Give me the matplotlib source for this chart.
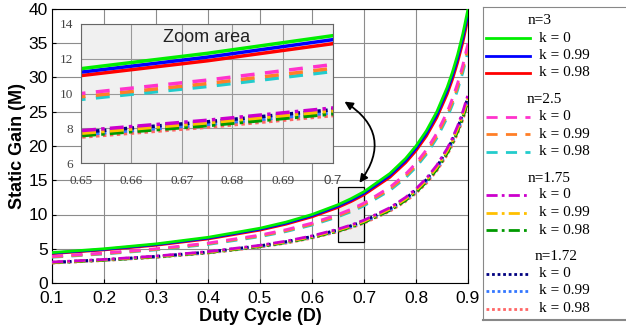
import matplotlib
matplotlib.use("Agg")
import matplotlib.pyplot as plt
from matplotlib.patches import Rectangle, FancyArrowPatch

plt.rcParams['font.family'] = ['Liberation Sans', 'DejaVu Sans']

# duty cycle points
duty = [0.1, 0.2, 0.3, 0.4, 0.5, 0.55, 0.6, 0.65, 0.675, 0.7, 0.75, 0.78,
        0.8, 0.82, 0.84, 0.86, 0.87, 0.88, 0.89, 0.9]

# n = 3
m_n3_k0 = [4.44, 5.00, 5.71, 6.67, 8.00, 8.89, 10.00, 11.43, 12.31, 13.33, 16.00, 18.18,
           20.00, 22.22, 25.00, 28.57, 30.77, 33.33, 36.36, 40.00]
m_n3_k099 = [4.37, 4.91, 5.61, 6.55, 7.86, 8.73, 9.83, 11.23, 12.09, 13.10, 15.72, 17.86,
             19.65, 21.83, 24.56, 28.07, 30.23, 32.75, 35.73, 39.30]
m_n3_k098 = [4.29, 4.83, 5.51, 6.43, 7.72, 8.58, 9.65, 11.03, 11.88, 12.87, 15.44, 17.55,
             19.30, 21.44, 24.13, 27.57, 29.69, 32.17, 35.09, 38.60]
# n = 2.5
m_n25_k0 = [3.89, 4.38, 5.00, 5.83, 7.00, 7.78, 8.75, 10.00, 10.77, 11.67, 14.00, 15.91,
            17.50, 19.44, 21.88, 25.00, 26.92, 29.17, 31.82, 35.00]
m_n25_k099 = [3.82, 4.29, 4.91, 5.73, 6.87, 7.63, 8.59, 9.81, 10.57, 11.45, 13.74, 15.61,
              17.18, 19.08, 21.47, 24.54, 26.42, 28.63, 31.23, 34.35]
m_n25_k098 = [3.76, 4.23, 4.83, 5.63, 6.76, 7.51, 8.45, 9.66, 10.40, 11.27, 13.52, 15.36,
              16.90, 18.78, 21.13, 24.14, 26.00, 28.17, 30.73, 33.80]
# n = 1.75
m_n175_k0 = [3.06, 3.44, 3.93, 4.58, 5.50, 6.11, 6.88, 7.86, 8.46, 9.17, 11.00, 12.50,
             13.75, 15.28, 17.19, 19.64, 21.15, 22.92, 25.00, 27.50]
m_n175_k099 = [3.00, 3.38, 3.86, 4.50, 5.40, 6.00, 6.75, 7.71, 8.31, 9.00, 10.80, 12.27,
               13.50, 15.00, 16.88, 19.29, 20.77, 22.50, 24.55, 27.00]
m_n175_k098 = [2.94, 3.31, 3.79, 4.42, 5.30, 5.89, 6.63, 7.57, 8.15, 8.83, 10.60, 12.05,
               13.25, 14.72, 16.56, 18.93, 20.38, 22.08, 24.09, 26.50]
# n = 1.72
m_n172_k0 = [3.02, 3.40, 3.89, 4.53, 5.44, 6.04, 6.80, 7.77, 8.37, 9.07, 10.88, 12.36,
             13.60, 15.11, 17.00, 19.43, 20.92, 22.67, 24.73, 27.20]
m_n172_k099 = [2.97, 3.34, 3.81, 4.45, 5.34, 5.93, 6.68, 7.63, 8.22, 8.90, 10.68, 12.14,
               13.35, 14.83, 16.69, 19.07, 20.54, 22.25, 24.27, 26.70]
m_n172_k098 = [2.91, 3.28, 3.74, 4.37, 5.24, 5.82, 6.55, 7.49, 8.06, 8.73, 10.48, 11.91,
               13.10, 14.56, 16.38, 18.71, 20.15, 21.83, 23.82, 26.20]

group_titles = ['n=3', 'n=2.5', 'n=1.75', 'n=1.72']
k_labels = ['k = 0', 'k = 0.99', 'k = 0.98']
x_ticks = [0.1, 0.2, 0.3, 0.4, 0.5, 0.6, 0.7, 0.8, 0.9]
y_ticks = [0, 5, 10, 15, 20, 25, 30, 35, 40]
zoom_x_ticks = [0.65, 0.66, 0.67, 0.68, 0.69, 0.7]
zoom_y_ticks = [6, 8, 10, 12, 14]

groups = [
    ([m_n3_k0, m_n3_k099, m_n3_k098], ['#00ee00', '#0000ff', '#ff0000'], '-'),
    ([m_n25_k0, m_n25_k099, m_n25_k098], ['#ff33cc', '#ff7f27', '#22cccc'], (0, (4, 3))),
    ([m_n175_k0, m_n175_k099, m_n175_k098], ['#cc00cc', '#ffc000', '#009900'], (0, (4, 1.5, 1, 1.5))),
    ([m_n172_k0, m_n172_k099, m_n172_k098], ['#000080', '#3377ff', '#ff6666'], (0, (1, 1))),
]

W, H = 626, 335
fig = plt.figure(figsize=(W / 100, H / 100), dpi=100)


def px_axes(x0, y0, x1, y1):
    # pixel box (top-left origin) -> figure fraction
    return [x0 / W, 1 - y1 / H, (x1 - x0) / W, (y1 - y0) / H]


ax = fig.add_axes(px_axes(52, 9, 468, 283))
for series, colors, ls in groups[::-1]:
    for vals, c in zip(series[::-1], colors[::-1]):
        ax.plot(duty, vals, color=c, ls=ls, lw=2, zorder=3)

ax.set_xlim(0.1, 0.9)
ax.set_ylim(0, 40)
ax.set_xticks(x_ticks)
ax.set_yticks(y_ticks)
ax.set_xticklabels([f'{t:g}' for t in x_ticks])
ax.tick_params(direction='in', labelsize=12.5, length=3)
ax.tick_params(axis='x', pad=6)
ax.tick_params(axis='y', pad=3)
ax.grid(True, color='#8c8c8c', lw=0.8)
ax.set_xlabel('Duty Cycle (D)', fontsize=13, fontweight='bold', labelpad=1)
ax.set_ylabel('Static Gain (M)', fontsize=13, fontweight='bold', labelpad=2)

# zoom box on main axes
ax.add_patch(Rectangle((0.65, 6), 0.05, 8, facecolor='#eeeeee', edgecolor='black', lw=0.9, zorder=2))
arrow = FancyArrowPatch((0.688, 14.3), (0.658, 26.7), arrowstyle='<|-|>', mutation_scale=12,
                        connectionstyle='arc3,rad=0.55', color='black', lw=1.3, zorder=6)
ax.add_patch(arrow)

# inset
axi = fig.add_axes(px_axes(81, 24, 333, 163))
axi.set_facecolor('#f0f0f0')
for series, colors, ls in groups[::-1]:
    for vals, c in zip(series[::-1], colors[::-1]):
        axi.plot(duty, vals, color=c, ls=ls, lw=2.5)
axi.set_xlim(0.65, 0.7)
axi.set_ylim(6, 14)
axi.set_xticks(zoom_x_ticks)
axi.set_yticks(zoom_y_ticks)
axi.set_xticklabels([f'{t:g}' for t in zoom_x_ticks])
axi.grid(True, color='#999999', lw=0.8)
axi.tick_params(direction='in', labelsize=9.5, length=0, colors='#444444')
axi.tick_params(axis='x', pad=9)
axi.tick_params(axis='y', pad=6)
for lab in axi.get_xticklabels()[:-1] + axi.get_yticklabels():
    lab.set_family('Liberation Serif')
for s in axi.spines.values():
    s.set_color('#666666')
axi.text(0.675, 13.2, 'Zoom area', ha='center', va='center', fontsize=13, color='#222222')

# legend panel
axl = fig.add_axes(px_axes(483, 7, 640, 320))
axl.set_xlim(483, 640)
axl.set_ylim(320, 7)
axl.set_xticks([])
axl.set_yticks([])
for s in axl.spines.values():
    s.set_color('#888888')
axl.spines['bottom'].set_linewidth(1.5)

title_x = [528, 527, 528, 535]
y0, group_step, row_step = 21, 78.5, 17.5
for gi, ((series, colors, ls), title) in enumerate(zip(groups, group_titles)):
    ty = y0 + gi * group_step
    axl.text(title_x[gi], ty, title, family='Liberation Serif', fontsize=11, va='center', ha='left')
    for ri, (c, lab) in enumerate(zip(colors, k_labels)):
        ry = ty + 17 + ri * row_step
        axl.plot([486, 530], [ry, ry], color=c, ls=ls, lw=2)
        axl.text(539, ry, lab, family='Liberation Serif', fontsize=11, va='center', ha='left')

fig.savefig('out.png', dpi=100)
